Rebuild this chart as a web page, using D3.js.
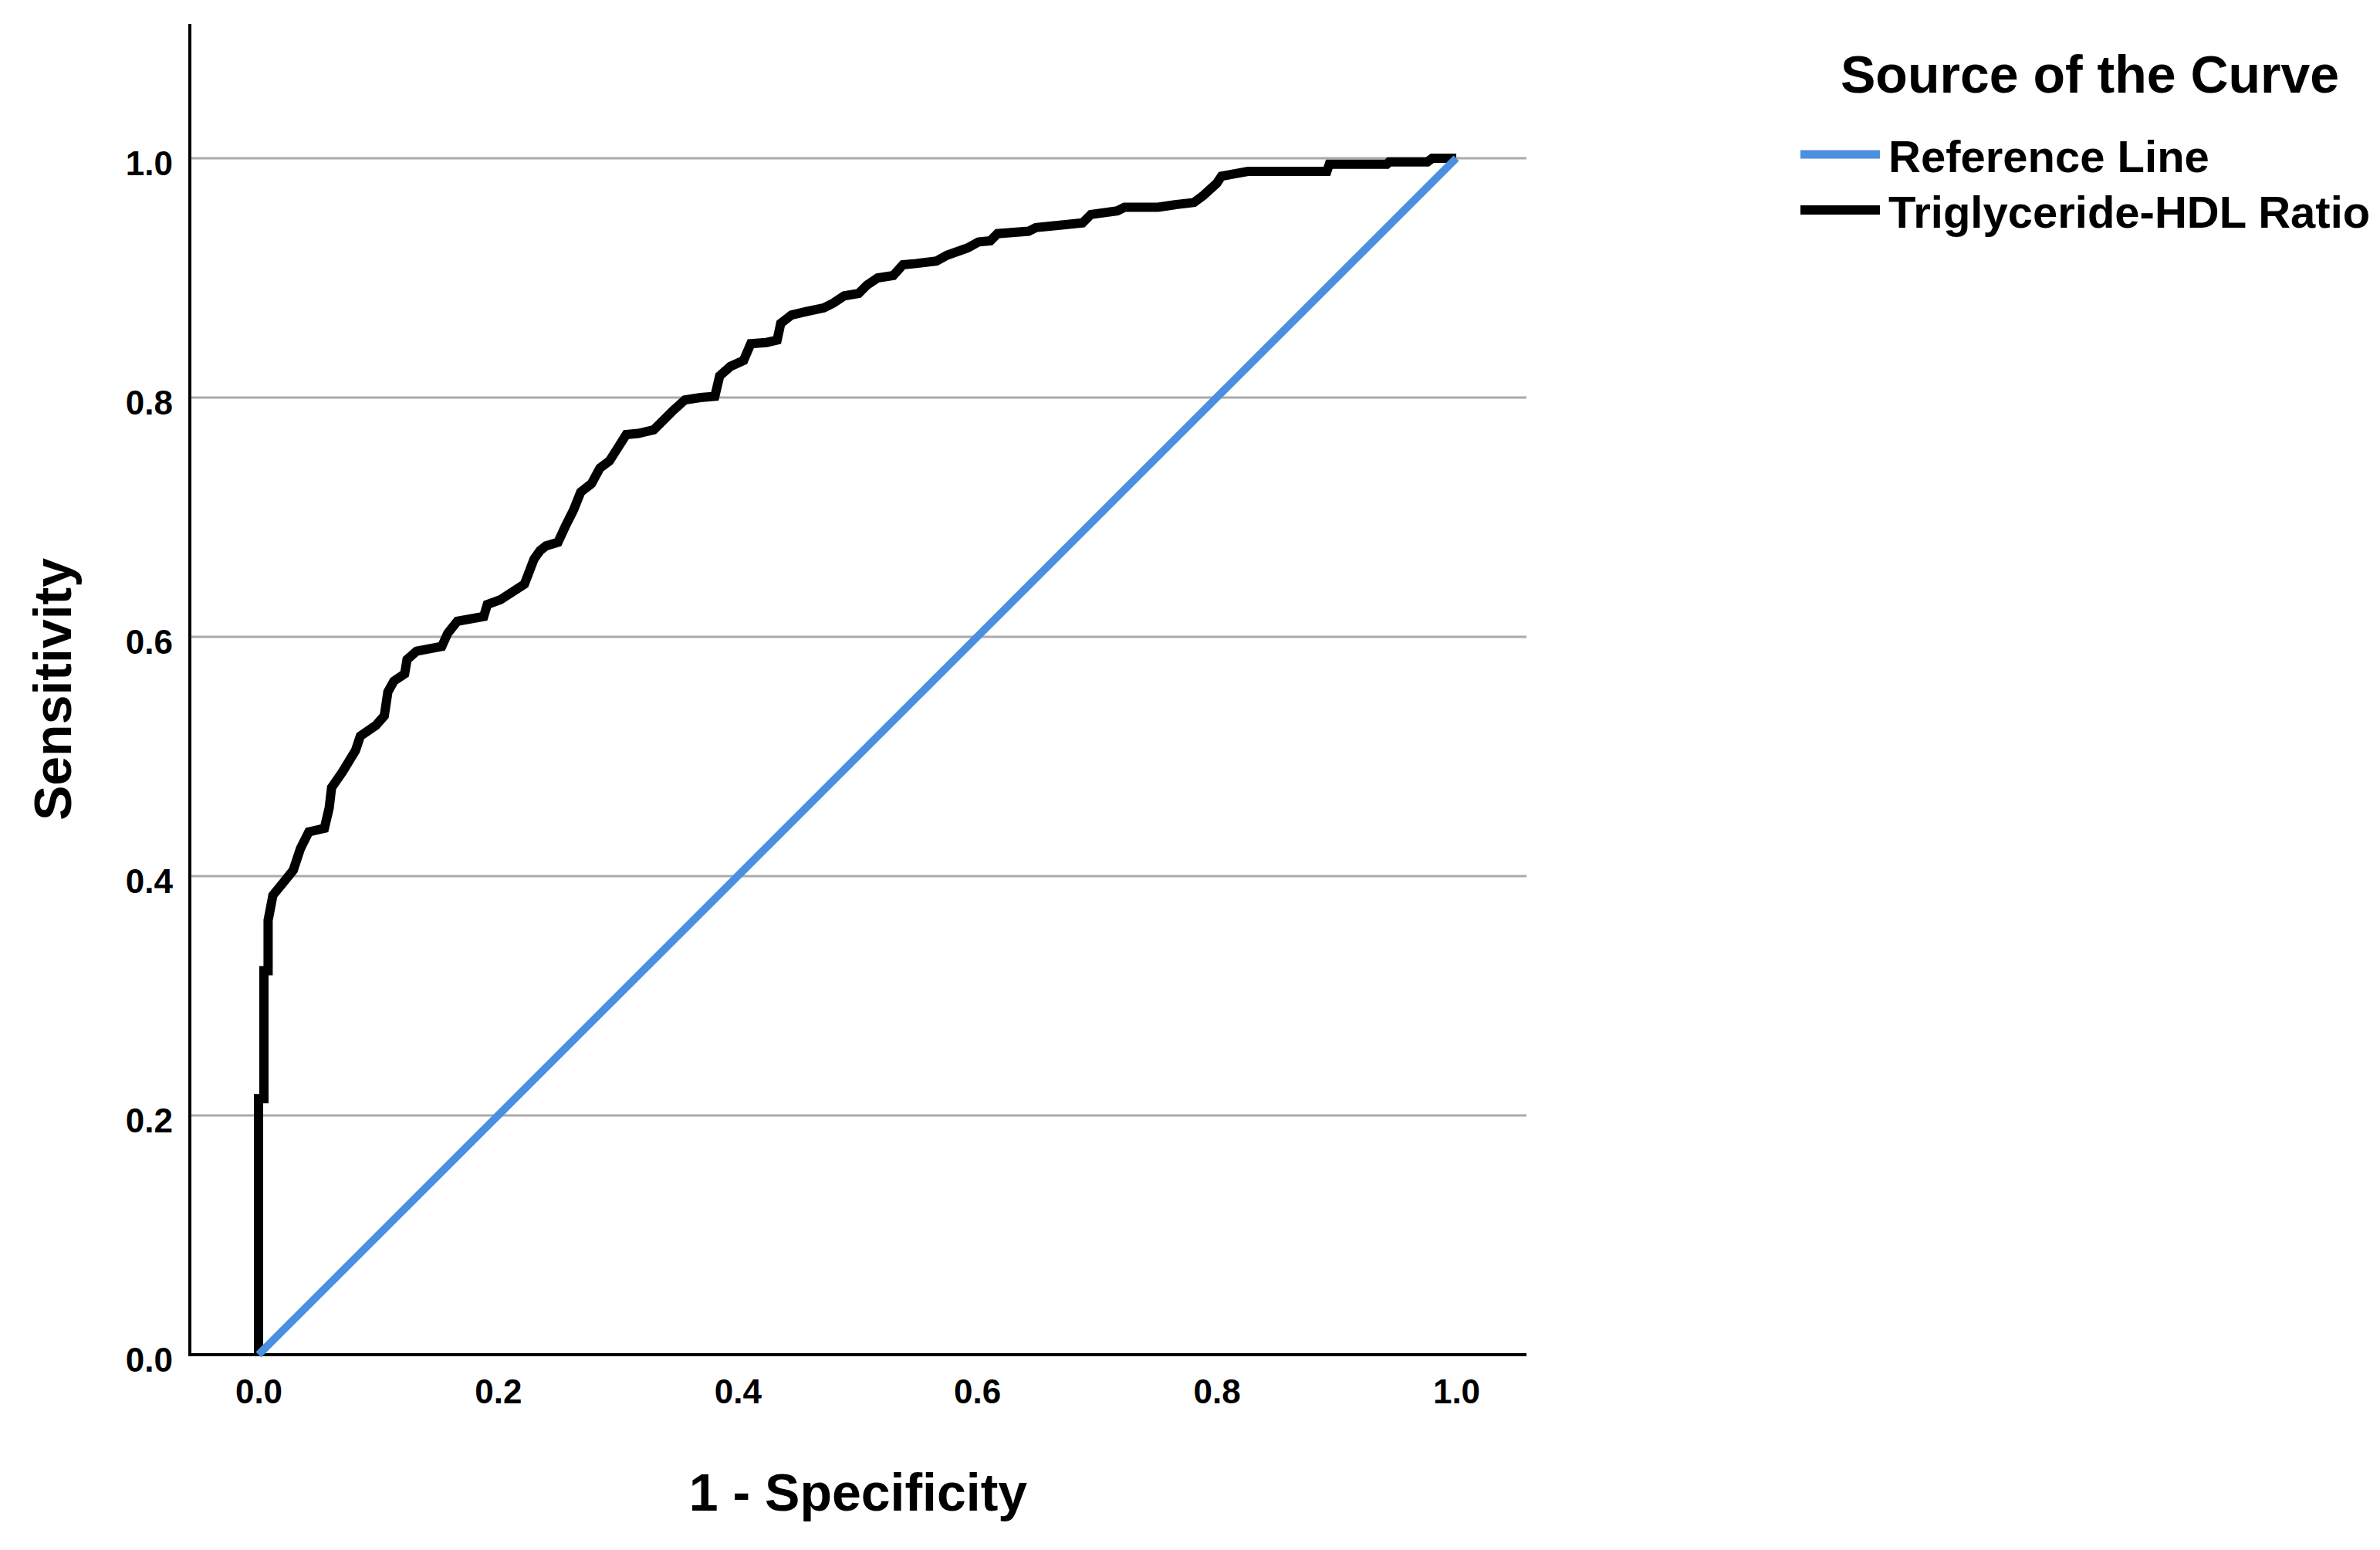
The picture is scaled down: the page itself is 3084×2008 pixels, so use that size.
<!DOCTYPE html>
<html><head><meta charset="utf-8">
<script src="https://cdn.jsdelivr.net/npm/d3@7"></script>
<style>body{margin:0;background:#fff;} svg{display:block;}</style>
</head><body>
<svg id="chart" width="3084" height="2008"></svg>
<script>
// ---- data ----
const fpr = [0,0,0.0045,0.0045,0.008,0.008,0.012,0.021,0.029,0.035,0.042,0.055,0.059,0.061,0.07,0.081,0.085,0.098,0.105,0.108,0.113,0.122,0.124,0.132,0.153,0.158,0.166,0.188,0.191,0.202,0.222,0.23,0.235,0.24,0.25,0.256,0.263,0.269,0.278,0.285,0.293,0.3,0.307,0.317,0.33,0.338,0.346,0.356,0.369,0.381,0.385,0.394,0.405,0.411,0.424,0.433,0.436,0.445,0.458,0.472,0.48,0.489,0.501,0.508,0.517,0.53,0.538,0.549,0.566,0.575,0.592,0.601,0.611,0.617,0.643,0.649,0.669,0.688,0.695,0.717,0.723,0.751,0.764,0.781,0.789,0.8,0.804,0.815,0.826,0.892,0.894,0.942,0.944,0.976,0.98,1.0];
const tpr = [0,0.214,0.214,0.321,0.321,0.363,0.384,0.395,0.405,0.423,0.437,0.44,0.457,0.474,0.487,0.505,0.517,0.526,0.534,0.554,0.563,0.569,0.581,0.588,0.592,0.603,0.613,0.617,0.627,0.631,0.644,0.665,0.672,0.676,0.679,0.692,0.706,0.721,0.728,0.741,0.747,0.758,0.769,0.77,0.773,0.781,0.789,0.798,0.8,0.801,0.818,0.826,0.831,0.845,0.846,0.848,0.862,0.869,0.872,0.875,0.879,0.885,0.887,0.894,0.9,0.902,0.911,0.912,0.914,0.919,0.925,0.93,0.931,0.937,0.939,0.942,0.944,0.946,0.953,0.956,0.959,0.959,0.961,0.963,0.969,0.979,0.985,0.987,0.989,0.989,0.995,0.995,0.997,0.997,1.0,1.0];
const refX = [0, 1];
const refY = [0, 1];
const xTicks = [0, 0.2, 0.4, 0.6, 0.8, 1.0];
const yTicks = [0, 0.2, 0.4, 0.6, 0.8, 1.0];
const gridValues = [0.2, 0.4, 0.6, 0.8, 1.0];
const seriesNames = ["Reference Line", "Triglyceride-HDL Ratio"];
const seriesColors = ["#4a8fe0", "#000000"];
const legendTitle = "Source of the Curve";
const xTitle = "1 - Specificity";
const yTitle = "Sensitivity";

// ---- layout ----
const FONT = "'Liberation Sans', Arial, Helvetica, sans-serif";
const svg = d3.select("#chart");
const x = d3.scaleLinear().domain([0, 1]).range([335, 1887]);
const y = d3.scaleLinear().domain([0, 1]).range([1755, 205]);
const frameLeft = 246, frameRight = 1978, frameTop = 31, frameBottom = y(0);

// gridlines
svg.append("g").selectAll("line").data(gridValues).join("line")
  .attr("x1", frameLeft).attr("x2", frameRight)
  .attr("y1", d => y(d)).attr("y2", d => y(d))
  .attr("stroke", "#aaaaaa").attr("stroke-width", 3);

// axes (labels)
const yAxis = svg.append("g").attr("transform", `translate(${frameLeft},0)`)
  .call(d3.axisLeft(y).tickValues(yTicks).tickSize(0).tickPadding(22).tickFormat(d3.format(".1f")));
yAxis.select(".domain").remove();
yAxis.selectAll("text").attr("dy", "0.49em")
  .style("font-family", FONT).style("font-weight", "bold").style("font-size", "44px").attr("fill", "#000");

const xAxis = svg.append("g").attr("transform", `translate(0,${frameBottom})`)
  .call(d3.axisBottom(x).tickValues(xTicks).tickSize(0).tickPadding(32).tickFormat(d3.format(".1f")));
xAxis.select(".domain").remove();
xAxis.selectAll("text")
  .style("font-family", FONT).style("font-weight", "bold").style("font-size", "44px").attr("fill", "#000");

// axis lines
svg.append("line").attr("x1", frameLeft).attr("x2", frameLeft).attr("y1", frameTop).attr("y2", frameBottom + 2)
  .attr("stroke", "#000").attr("stroke-width", 4);
svg.append("line").attr("x1", frameLeft - 2).attr("x2", frameRight).attr("y1", frameBottom).attr("y2", frameBottom)
  .attr("stroke", "#000").attr("stroke-width", 4);

// curves
const line = d3.line().x(d => x(d[0])).y(d => y(d[1]));
svg.append("path").datum(d3.zip(fpr, tpr)).attr("d", line)
  .attr("fill", "none").attr("stroke", seriesColors[1]).attr("stroke-width", 12)
  .attr("stroke-linejoin", "miter").attr("stroke-linecap", "butt");
svg.append("path").datum(d3.zip(refX, refY)).attr("d", line)
  .attr("fill", "none").attr("stroke", seriesColors[0]).attr("stroke-width", 10);

// axis titles
svg.append("text").attr("x", (frameLeft + frameRight) / 2).attr("y", 1957)
  .attr("text-anchor", "middle").style("font-family", FONT).style("font-weight", "bold")
  .style("font-size", "68px").text(xTitle);
svg.append("text").attr("transform", `translate(92,${(frameTop + frameBottom) / 2}) rotate(-90)`)
  .attr("text-anchor", "middle").style("font-family", FONT).style("font-weight", "bold")
  .style("font-size", "68px").text(yTitle);

// legend
const lg = svg.append("g");
lg.append("text").attr("x", 2385).attr("y", 120).style("font-family", FONT).style("font-weight", "bold")
  .style("font-size", "68px").text(legendTitle);
const rows = lg.selectAll("g.row").data(seriesNames).join("g").attr("class", "row")
  .attr("transform", (d, i) => `translate(0,${i * 72})`);
rows.append("line").attr("x1", 2333).attr("x2", 2436).attr("y1", 200).attr("y2", 200)
  .attr("stroke", (d, i) => seriesColors[i]).attr("stroke-width", (d, i) => i === 0 ? 11 : 12);
rows.append("text").attr("x", 2447).attr("y", 223).style("font-family", FONT).style("font-weight", "bold")
  .style("font-size", "58px").text(d => d);
</script>
</body></html>
